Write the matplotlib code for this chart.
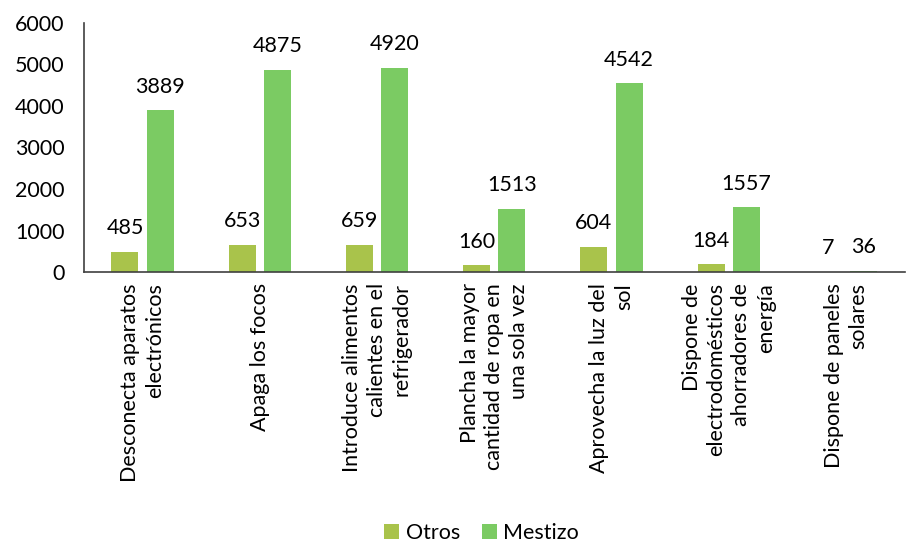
import numpy as np
import matplotlib.pyplot as plt

plt.rcParams['font.family'] = ['Lato', 'DejaVu Sans']

categorias = ["Desconecta aparatos\nelectrónicos",
              "Apaga los focos",
              "Introduce alimentos\ncalientes en el\nrefrigerador",
              "Plancha la mayor\ncantidad de ropa en\nuna sola vez",
              "Aprovecha la luz del\nsol",
              "Dispone de\nelectrodomésticos\nahorradores de\nenergía",
              "Dispone de paneles\nsolares"]
otros = [485, 653, 659, 160, 604, 184, 7]
mestizo = [3889, 4875, 4920, 1513, 4542, 1557, 36]

fig = plt.figure(figsize=(9.12, 5.43), dpi=100)
ax = fig.add_axes([0.092, 0.499, 0.9, 0.459])

x = np.arange(len(categorias))
w = 0.23
b1 = ax.bar(x - 0.15, otros, w, color='#A9C34B', label='Otros')
b2 = ax.bar(x + 0.15, mestizo, w, color='#7BCB63', label='Mestizo')

for bars, vals in ((b1, otros), (b2, mestizo)):
    for r, v in zip(bars, vals):
        ax.text(r.get_x() + r.get_width() / 2, v + 330, str(v),
                ha='center', va='bottom', fontsize=15.5)

ax.set_xlim(-0.5, len(categorias) - 0.5)
ax.set_ylim(0, 6000)
ax.set_yticks(range(0, 6001, 1000))
ax.set_xticks(x)
ax.set_xticklabels(categorias, rotation=90, ha='center', va='top',
                   multialignment='right', fontsize=15.5, linespacing=1.3)
ax.tick_params(axis='both', length=0, labelsize=15.5)
ax.tick_params(axis='x', pad=8)
ax.tick_params(axis='y', pad=14)
for s in ('top', 'right'):
    ax.spines[s].set_visible(False)
ax.spines['left'].set_color('#404040')
ax.spines['bottom'].set_color('#404040')
ax.spines['left'].set_linewidth(1.2)
ax.spines['bottom'].set_linewidth(1.2)

fig.legend(handles=[b1, b2], loc='lower center', ncol=2, frameon=False,
           fontsize=15.5, bbox_to_anchor=(0.528, -0.035), handlelength=0.7,
           handleheight=0.7, columnspacing=1.0, handletextpad=0.3)

fig.savefig('out.png', dpi=100)
